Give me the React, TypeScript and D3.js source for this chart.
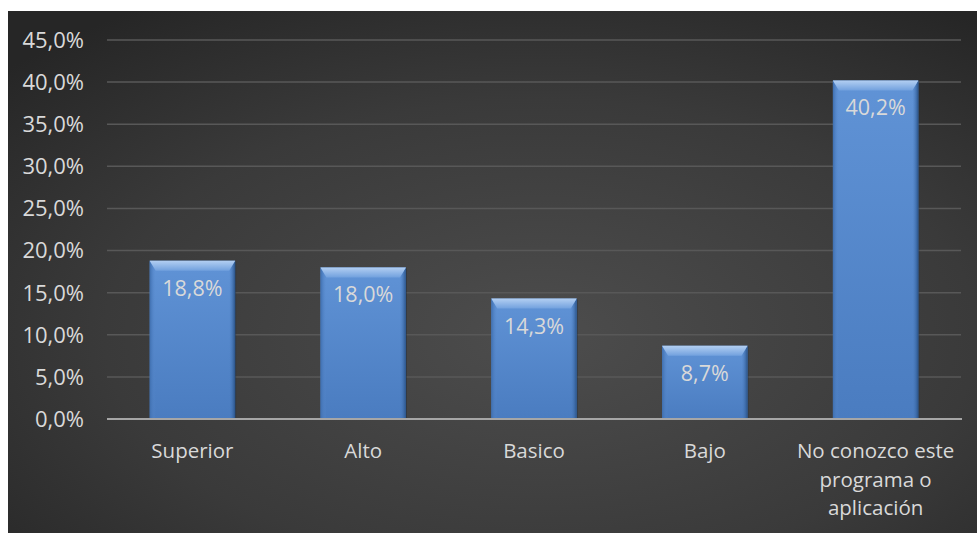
import * as d3 from "d3";

const categories = ["Superior", "Alto", "Basico", "Bajo", "No conozco este programa o aplicación"];
const categoryLines = [["Superior"], ["Alto"], ["Basico"], ["Bajo"], ["No conozco este", "programa o", "aplicación"]];
const values = [18.8, 18.0, 14.3, 8.7, 40.2];
const yTicks = [0, 5, 10, 15, 20, 25, 30, 35, 40, 45];

const W = 977;
const H = 533;
const plot = { left: 107, right: 961, top: 40, bottom: 419 };
const fmt = (v: number) => v.toFixed(1).replace(".", ",") + "%";

export default function App() {
  const x = d3.scaleBand<string>().domain(categories).range([plot.left, plot.right]).paddingInner(0.5).paddingOuter(0.25);
  const y = d3.scaleLinear().domain([0, 45]).range([plot.bottom, plot.top]);
  const bw = x.bandwidth();
  const font = "'Open Sans', sans-serif";
  const textColor = "#d9d9d9";

  return (
    <svg width={W} height={H} style={{ position: "absolute", left: 0, top: 0 }}>
      <defs>
        <radialGradient id="bg" cx="0.55" cy="0.62" r="0.75">
          <stop offset="0" stopColor="#4d4d4d" />
          <stop offset="0.6" stopColor="#3a3a3a" />
          <stop offset="1" stopColor="#262626" />
        </radialGradient>
        <linearGradient id="barFill" x1="0" y1="0" x2="0" y2="1">
          <stop offset="0" stopColor="#6093d6" />
          <stop offset="1" stopColor="#4a7cc0" />
        </linearGradient>
        <linearGradient id="bevelTop" x1="0" y1="0" x2="0" y2="1">
          <stop offset="0" stopColor="#b3cff2" />
          <stop offset="1" stopColor="#72a1de" />
        </linearGradient>
        <linearGradient id="bevelRight" x1="0" y1="0" x2="1" y2="0">
          <stop offset="0" stopColor="#4a7cbf" stopOpacity="0" />
          <stop offset="1" stopColor="#2a5388" />
        </linearGradient>
        <linearGradient id="bevelLeft" x1="0" y1="0" x2="1" y2="0">
          <stop offset="0" stopColor="#3e6eae" />
          <stop offset="1" stopColor="#5a8cd0" stopOpacity="0" />
        </linearGradient>
      </defs>
      <rect x={8} y={11} width={W - 8} height={H - 11} fill="url(#bg)" />

      {yTicks.map((t) => (
        <g key={t}>
          {t > 0 && (
            <line x1={plot.left} x2={plot.right} y1={y(t)} y2={y(t)} stroke="#585858" strokeWidth={1.5} />
          )}
          <text x={84} y={y(t)} dy="0.36em" textAnchor="end" fontFamily={font} fontSize={22} fill={textColor}>
            {fmt(t)}
          </text>
        </g>
      ))}

      {categories.map((c, i) => {
        const x0 = x(c)!;
        const y0 = y(values[i]);
        const y1 = y(0);
        const bv = 10;
        const sv = 6;
        return (
          <g key={c}>
            <rect x={x0 + 1} y={y0 + 1} width={bw} height={y1 - y0} fill="#1c2c40" opacity={0.5} />
            <rect x={x0} y={y0} width={bw} height={y1 - y0} fill="url(#barFill)" />
            <polygon
              points={`${x0},${y0} ${x0 + sv},${y0 + bv} ${x0 + sv},${y1} ${x0},${y1}`}
              fill="url(#bevelLeft)"
            />
            <polygon
              points={`${x0 + bw},${y0} ${x0 + bw - sv},${y0 + bv} ${x0 + bw - sv},${y1} ${x0 + bw},${y1}`}
              fill="url(#bevelRight)"
            />
            <polygon
              points={`${x0},${y0} ${x0 + bw},${y0} ${x0 + bw - sv},${y0 + bv} ${x0 + sv},${y0 + bv}`}
              fill="url(#bevelTop)"
            />
            <text x={x0 + bw / 2} y={y0 + 35} textAnchor="middle" fontFamily={font} fontSize={21.5} fill={textColor}>
              {fmt(values[i])}
            </text>
            {categoryLines[i].map((l, j) => (
              <text key={j} x={x0 + bw / 2} y={458 + j * 28.5} textAnchor="middle" fontFamily={font} fontSize={20.5} fill={textColor}>
                {l}
              </text>
            ))}
          </g>
        );
      })}

      <line x1={plot.left} x2={plot.right + 1} y1={y(0)} y2={y(0)} stroke="#a6a6a6" strokeWidth={2} />
    </svg>
  );
}
